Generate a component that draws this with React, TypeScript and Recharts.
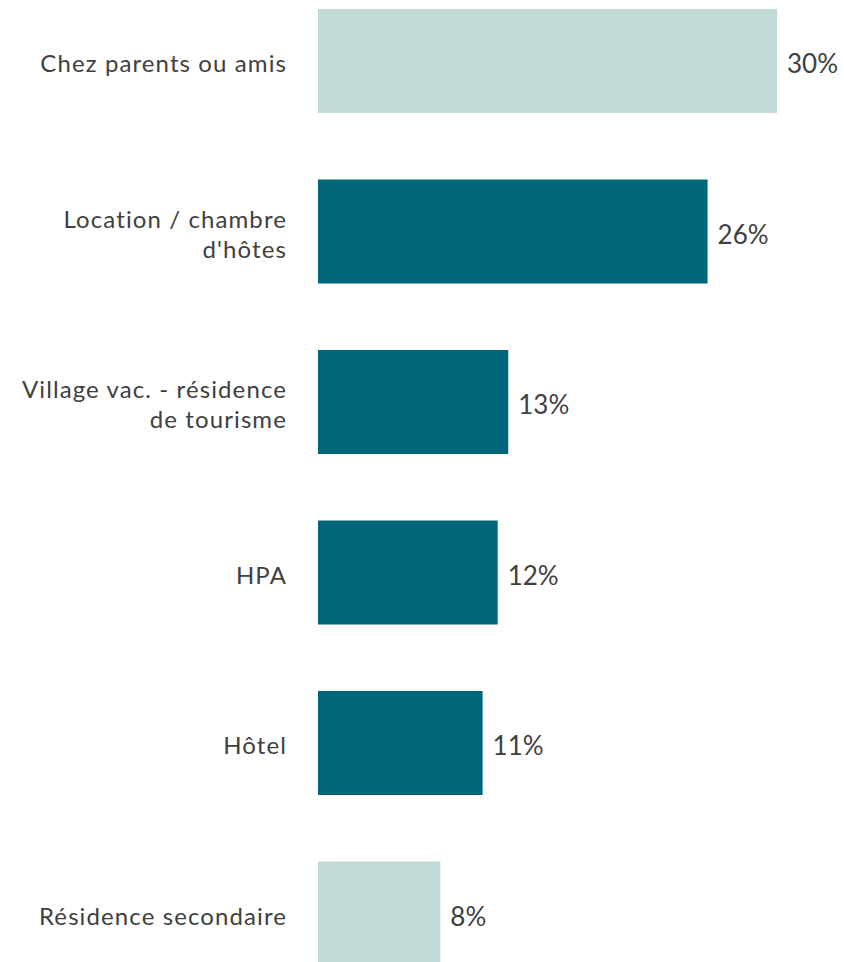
import { BarChart, Bar, XAxis, YAxis, Cell, LabelList } from 'recharts';

const categories = [
  'Chez parents ou amis',
  'Location / chambre\nd\'hôtes',
  'Village vac. - résidence\nde tourisme',
  'HPA',
  'Hôtel',
  'Résidence secondaire',
];
const shares = [30.4, 25.8, 12.6, 11.9, 10.9, 8.1];
const highlighted = [false, true, true, true, true, false];

const LIGHT = '#c2d9d7';
const DARK = '#00677a';
const TEXT = '#404040';
const FONT = 'Lato, "Open Sans", sans-serif';

const data = categories.map((name, i) => ({ name, share: shares[i], dark: highlighted[i] }));

function CategoryTick(props: any) {
  const { x, y, payload } = props;
  const lines: string[] = String(payload.value).split('\n');
  const lineGap = 30;
  const startDy = -((lines.length - 1) * lineGap) / 2;
  return (
    <text x={x} y={y} textAnchor="end" fill={TEXT} fontSize={24} fontFamily={FONT} letterSpacing={1.1}>
      {lines.map((line, i) => (
        <tspan key={i} x={x} dy={i === 0 ? startDy + 11 : lineGap}>
          {line}
        </tspan>
      ))}
    </text>
  );
}

export default function App() {
  return (
    <div style={{ position: 'absolute', left: 0, top: -24 }}>
      <BarChart
        width={844}
        height={1023}
        data={data}
        layout="vertical"
        margin={{ top: 0, right: 12.6, bottom: 0, left: 0 }}
        barCategoryGap={33}
      >
        <XAxis type="number" domain={[0, 34]} hide />
        <YAxis
          type="category"
          dataKey="name"
          width={318}
          axisLine={false}
          tickLine={false}
          tickMargin={25}
          tick={<CategoryTick />}
        />
        <Bar dataKey="share" barSize={104} isAnimationActive={false}>
          {data.map((d, i) => (
            <Cell key={i} fill={d.dark ? DARK : LIGHT} />
          ))}
          <LabelList
            dataKey="share"
            position="right"
            offset={10}
            dy={3}
            fill={TEXT}
            fontSize={26}
            fontFamily={FONT}
            formatter={(v: any) => `${Math.round(Number(v))}%`}
          />
        </Bar>
      </BarChart>
    </div>
  );
}
